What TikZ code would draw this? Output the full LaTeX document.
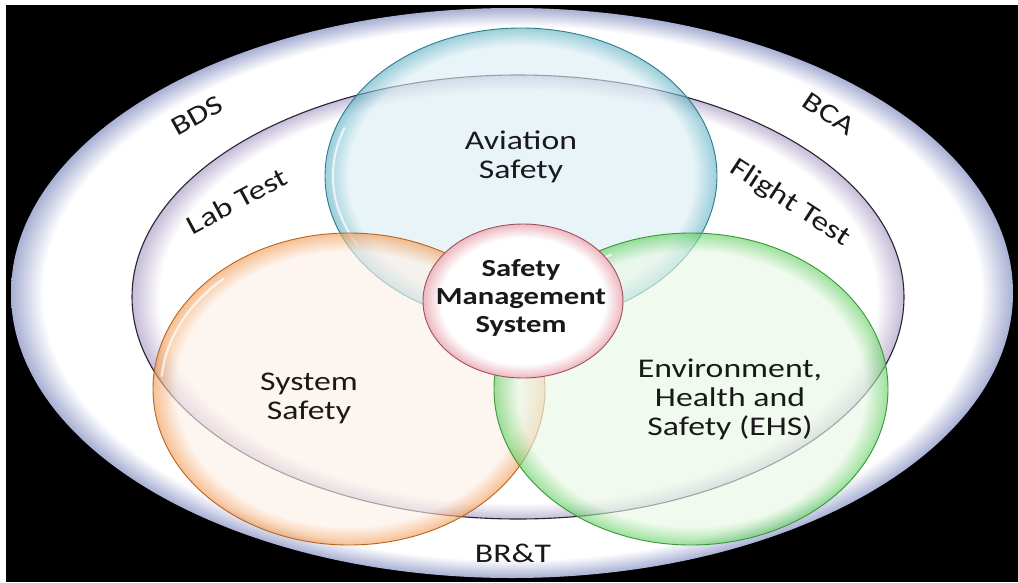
\documentclass[tikz,border=0pt]{standalone}
\usepackage{fontspec}
\setmainfont{Carlito}[FakeStretch=1.25]
\definecolor{glowblue}{HTML}{A8B0D4}
\definecolor{lavedge}{HTML}{C6BCD8}
\definecolor{blutint}{HTML}{DCEEF4}
\definecolor{bluedge}{HTML}{5EB2C4}
\definecolor{blueline}{HTML}{2E7C8C}
\definecolor{ortint}{HTML}{FDF1E8}
\definecolor{oredge}{HTML}{F39A52}
\definecolor{orline}{HTML}{B8641E}
\definecolor{grtint}{HTML}{EAF8E6}
\definecolor{gredge}{HTML}{62D062}
\definecolor{grline}{HTML}{389838}
\definecolor{pktint}{HTML}{FFFFFF}
\definecolor{pkedge}{HTML}{EDB8C0}
\definecolor{pkline}{HTML}{9E5062}
\definecolor{rimline}{HTML}{262630}
% radial glows: inner colour in the middle, edge colour at the path boundary (25bp)
\pgfdeclareradialshading{outerglow}{\pgfpoint{0bp}{0bp}}{color(0bp)=(white); color(23.4bp)=(white); color(25bp)=(glowblue); color(50bp)=(glowblue)}
\pgfdeclareradialshading{innerglow}{\pgfpoint{0bp}{0bp}}{color(0bp)=(white); color(23.2bp)=(white); color(25bp)=(lavedge); color(50bp)=(lavedge)}
\pgfdeclareradialshading{blueglow}{\pgfpoint{0bp}{0bp}}{color(0bp)=(blutint); color(22bp)=(blutint); color(25bp)=(bluedge); color(50bp)=(bluedge)}
\pgfdeclareradialshading{orangeglow}{\pgfpoint{0bp}{0bp}}{color(0bp)=(ortint); color(22bp)=(ortint); color(25bp)=(oredge); color(50bp)=(oredge)}
\pgfdeclareradialshading{greenglow}{\pgfpoint{0bp}{0bp}}{color(0bp)=(grtint); color(22bp)=(grtint); color(25bp)=(gredge); color(50bp)=(gredge)}
\pgfdeclareradialshading{pinkglow}{\pgfpoint{0bp}{0bp}}{color(0bp)=(pktint); color(20.5bp)=(pktint); color(25bp)=(pkedge); color(50bp)=(pkedge)}
\begin{document}
\begin{tikzpicture}[x=1pt,y=-1pt,
  lbl/.style={font=\fontsize{27}{29}\selectfont, align=center, text=black!90, inner sep=0pt},
  sms/.style={font=\bfseries\fontsize{24.5}{28}\selectfont, align=center, text=black!90, inner sep=0pt},
  bubble/.style={fill opacity=0.62},
  gloss/.style={white, line width=2.2pt, line cap=round, opacity=0.7}]
\useasboundingbox (0,0) rectangle (1018,582);
% frame
\fill[white] (0,0) rectangle (1018,582);
\fill[black] (6,5) rectangle (1018,582);
% business-unit ellipse and test ellipse
\shade[shading=outerglow] (512,293) ellipse [x radius=501, y radius=285];
\shade[shading=innerglow] (518,297) ellipse [x radius=386, y radius=222];
\draw[rimline, line width=1.1pt] (518,297) ellipse [x radius=386, y radius=222];
% three safety domains (y axis points down, so angles run clockwise)
\shade[shading=blueglow, bubble] (521,176) ellipse [x radius=196, y radius=148];
\draw[blueline, line width=0.9pt] (521,176) ellipse [x radius=196, y radius=148];
\draw[gloss] (521,176) ++(150:188 and 140) arc [start angle=150, end angle=200, x radius=188, y radius=140];
\shade[shading=orangeglow, bubble] (349,389) ellipse [x radius=196, y radius=156];
\draw[orline, line width=0.9pt] (349,389) ellipse [x radius=196, y radius=156];
\draw[gloss] (349,389) ++(185:188 and 148) arc [start angle=185, end angle=228, x radius=188, y radius=148];
\shade[shading=greenglow, bubble] (691,389) ellipse [x radius=197, y radius=156];
\draw[grline, line width=0.9pt] (691,389) ellipse [x radius=197, y radius=156];
\draw[gloss] (691,389) ++(212:189 and 148) arc [start angle=212, end angle=245, x radius=189, y radius=148];
% core
\shade[shading=pinkglow] (523,301) ellipse [x radius=100, y radius=77];
\draw[pkline, line width=0.9pt] (523,301) ellipse [x radius=100, y radius=77];
% labels
\node[lbl] (aviation) at (521,157) {Aviation\\Safety};
\node[lbl] (system) at (309,398) {System\\Safety};
\node[lbl] (ehs) at (730,399) {Environment,\\Health and\\Safety (EHS)};
\node[sms] (core) at (521,298) {Safety\\Management\\System};
\node[lbl] (bds) at (197,116) [rotate=29] {BDS};
\node[lbl] (bca) at (829,114) [rotate=-34] {BCA};
\node[lbl] (lab) at (237,201) [rotate=28] {Lab Test};
\node[lbl] (flight) at (790,203) [rotate=-33] {Flight Test};
\node[lbl] (brt) at (513,553) {BR\&T};
\end{tikzpicture}
\end{document}
